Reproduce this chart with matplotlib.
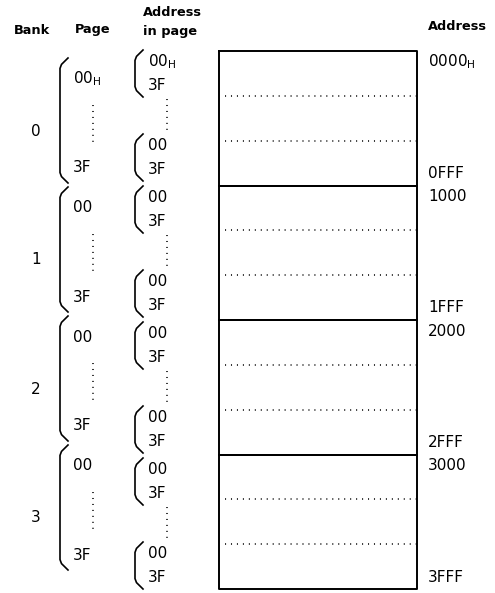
import matplotlib

matplotlib.use("Agg")
import matplotlib.pyplot as plt

# Dades del mapa de memoria
banks = ["0", "1", "2", "3"]
start_addr = ["0000$_{\\rm H}$", "1000", "2000", "3000"]
end_addr = ["0FFF", "1FFF", "2FFF", "3FFF"]
first_page = ["00$_{\\rm H}$", "00", "00", "00"]
last_page = ["3F", "3F", "3F", "3F"]
first_offset = ["00$_{\\rm H}$", "00", "00", "00"]
last_offset = ["3F", "3F", "3F", "3F"]

W, H = 495, 593
fig = plt.figure(figsize=(W / 100, H / 100), dpi=100)
ax = fig.add_axes([0, 0, 1, 1])
ax.set_xlim(0, W)
ax.set_ylim(H, 0)
ax.axis("off")

plt.rcParams["mathtext.fontset"] = "dejavusans"
fs = 11
hfs = 9.3

dot = (0, (0.7, 3.2))


def bracket(x, top, bot, tip=8, lw=1.2):
    ax.plot([x + tip, x + 1.5, x, x, x + 1.5, x + tip],
            [top, top + tip * 0.8, top + tip * 1.3,
             bot - tip * 1.3, bot - tip * 0.8, bot],
            color="black", lw=lw, solid_joinstyle="round")


# capcaleres
ax.text(14, 30, "Bank", fontsize=hfs, fontweight="bold", va="center")
ax.text(75, 30, "Page", fontsize=hfs, fontweight="bold", va="center")
ax.text(143, 13, "Address", fontsize=hfs, fontweight="bold", va="center")
ax.text(143, 31, "in page", fontsize=hfs, fontweight="bold", va="center")
ax.text(428, 26, "Address", fontsize=hfs, fontweight="bold", va="center")

# caixa de memoria
box_l, box_r = 219, 417
box_top, bank_h = 51, 134.5
for i, b in enumerate(banks):
    top = box_top + i * bank_h
    bot = top + bank_h
    ax.plot([box_l, box_r, box_r, box_l, box_l], [top, top, bot, bot, top],
            color="black", lw=1.4)
    for f in (1 / 3, 2 / 3):
        y = top + bank_h * f
        ax.plot([box_l + 6, box_r], [y, y], color="black", lw=1.1, linestyle=dot)
    ax.text(428, top + 11, start_addr[i], fontsize=fs, va="center")
    ax.text(428, bot - 12, end_addr[i], fontsize=fs, va="center")

# columna de pagines
pg_top, pg_pitch = 58, 129
for i, b in enumerate(banks):
    top = pg_top + i * pg_pitch
    bot = top + 125
    bracket(60, top, bot)
    ax.text(73, top + 21, first_page[i], fontsize=fs, va="center")
    ax.text(73, top + 110, last_page[i], fontsize=fs, va="center")
    ax.plot([93, 93], [top + 47, top + 85], color="black", lw=1.1, linestyle=dot)
    ax.text(36, top + 73, b, fontsize=fs, va="center", ha="center")

# columna d'adreces dins la pagina
for i in range(len(banks)):
    y1 = 62 + i * 136
    y2 = 146 + i * 136
    for j, y in enumerate((y1, y2)):
        bracket(135, y - 12, y + 35)
        lab = first_offset[i] if j == 0 else "00"
        ax.text(148, y, lab, fontsize=fs, va="center")
        ax.text(148, y + 23, last_offset[i], fontsize=fs, va="center")
    ax.plot([167, 167], [y1 + 37, y2 - 15], color="black", lw=1.1, linestyle=dot)

fig.savefig("out.png", dpi=100)
